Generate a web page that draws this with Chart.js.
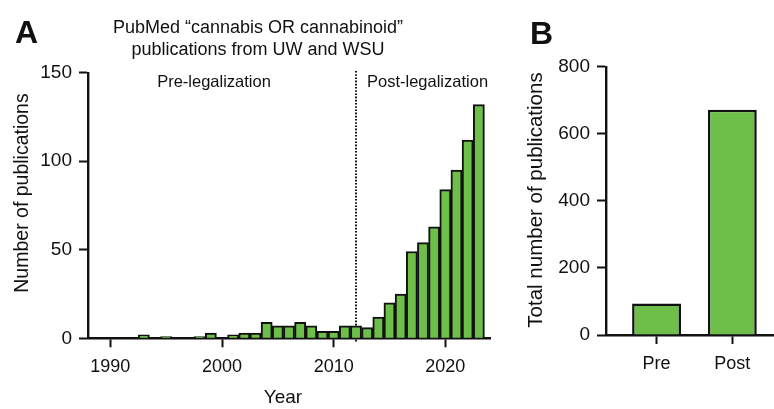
<!DOCTYPE html>
<html>
<head>
<meta charset="utf-8">
<script src="https://cdn.jsdelivr.net/npm/chart.js@4.4.1/dist/chart.umd.min.js"></script>
<style>
  html, body { margin: 0; padding: 0; background: #fff; }
  #wrap { position: relative; width: 774px; height: 409px; overflow: hidden; }
  #panelA { position: absolute; left: 0; top: 0; }
  #panelB { position: absolute; left: 520px; top: 0; }
</style>
</head>
<body>
<div id="wrap">
  <canvas id="panelA" width="520" height="409"></canvas>
  <canvas id="panelB" width="254" height="409"></canvas>
</div>
<script>
// Yearly PubMed counts ("cannabis OR cannabinoid", UW and WSU affiliations)
const years = [1989, 1990, 1991, 1992, 1993, 1994, 1995, 1996, 1997, 1998,
               1999, 2000, 2001, 2002, 2003, 2004, 2005, 2006, 2007, 2008,
               2009, 2010, 2011, 2012, 2013, 2014, 2015, 2016, 2017, 2018,
               2019, 2020, 2021, 2022, 2023];
const publications = [0, 0, 0, 0, 2, 0, 1, 0, 0, 1,
                      3, 0, 2, 3, 3, 9, 7, 7, 9, 7,
                      4, 4, 7, 7, 6, 12, 20, 25, 49, 54,
                      63, 84, 95, 112, 132];
const yearTicks = [1990, 2000, 2010, 2020];
const countTicksA = [0, 50, 100, 150];
const legalizationYear = 2012;

// Totals before and after legalization
const periods = ['Pre', 'Post'];
const periodTotals = [94, 672];
const countTicksB = [0, 200, 400, 600, 800];

const FONT = '"Liberation Sans", Arial, Helvetica, sans-serif';
const INK = '#111111';
const GREEN = '#6dbf4a';

Chart.defaults.font.family = FONT;
Chart.defaults.color = INK;
Chart.defaults.animation = false;

function axisStyle(tickFont, tickPad) {
  return {
    grid: { display: true, drawOnChartArea: false, drawTicks: true,
            tickLength: 9, tickWidth: 2, tickColor: INK, offset: false },
    border: { display: true, color: INK, width: 2.4 },
    ticks: { font: { size: tickFont }, color: INK, padding: tickPad, maxRotation: 0, autoSkip: false }
  };
}

function text(ctx, str, x, y, size, opts = {}) {
  ctx.save();
  ctx.font = (opts.bold ? 'bold ' : '') + size + 'px ' + FONT;
  ctx.fillStyle = INK;
  ctx.textAlign = opts.align || 'center';
  ctx.textBaseline = opts.baseline || 'alphabetic';
  ctx.translate(x, y);
  if (opts.rotate) ctx.rotate(opts.rotate);
  ctx.fillText(str, 0, 0);
  ctx.restore();
}

// Panel A: labels, title and the legalization marker
const panelADecor = {
  id: 'panelADecor',
  beforeDatasetsDraw(chart) {
    const ctx = chart.ctx;
    const x = chart.scales.x.getPixelForValue(legalizationYear);
    ctx.save();
    ctx.strokeStyle = INK;
    ctx.lineWidth = 2;
    ctx.setLineDash([1.6, 1.6]);
    ctx.beginPath();
    ctx.moveTo(x, 71);
    ctx.lineTo(x, 342);
    ctx.stroke();
    ctx.restore();
  },
  afterDraw(chart) {
    const ctx = chart.ctx;
    text(ctx, 'A', 15, 43, 32, { bold: true, align: 'left' });
    text(ctx, 'PubMed \u201Ccannabis OR cannabinoid\u201D', 258, 32.5, 18);
    text(ctx, 'publications from UW and WSU', 258, 54.5, 18);
    text(ctx, 'Pre-legalization', 214, 86.5, 16.5);
    text(ctx, 'Post-legalization', 367, 86.5, 16.5, { align: 'left' });
    text(ctx, 'Year', 283, 398, 19, { baseline: 'middle' });
    text(ctx, 'Number of publications', 23, 193, 19.5, { baseline: 'middle', rotate: -Math.PI / 2 });
  }
};

// Panel B: letter and axis title
const panelBDecor = {
  id: 'panelBDecor',
  afterDraw(chart) {
    const ctx = chart.ctx;
    text(ctx, 'B', 10, 44, 32, { bold: true, align: 'left' });
    text(ctx, 'Total number of publications', 16, 200, 20.5, { baseline: 'middle', rotate: -Math.PI / 2 });
  }
};

const xA = axisStyle(18, 9);
xA.ticks.callback = v => String(v);
const yA = axisStyle(19, 7);
new Chart(document.getElementById('panelA'), {
  type: 'bar',
  data: {
    datasets: [{
      data: years.map((yr, i) => ({ x: yr, y: publications[i] })),
      backgroundColor: GREEN,
      borderColor: INK,
      borderWidth: 2,
      borderSkipped: 'start',
      barPercentage: 1,
      categoryPercentage: 1
    }]
  },
  options: {
    responsive: false,
    devicePixelRatio: 1,
    layout: { padding: { left: 0, right: 30, top: 72.7, bottom: 0 } },
    plugins: { legend: { display: false }, tooltip: { enabled: false } },
    scales: {
      x: Object.assign(xA, {
        type: 'linear', min: 1988, max: 2024, offset: false,
        afterBuildTicks: s => { s.ticks = yearTicks.map(v => ({ value: v })); },
        afterFit: s => { s.height = 409 - 338.3; }
      }),
      y: Object.assign(yA, {
        type: 'linear', min: 0, max: 150,
        afterBuildTicks: s => { s.ticks = countTicksA.map(v => ({ value: v })); },
        afterFit: s => { s.width = 88; }
      })
    }
  },
  plugins: [panelADecor]
});

const xB = axisStyle(18, 9);
xB.ticks.callback = v => periods[v - 1];
const yB = axisStyle(19, 7);
new Chart(document.getElementById('panelB'), {
  type: 'bar',
  data: {
    datasets: [{
      data: periods.map((p, i) => ({ x: i + 1, y: periodTotals[i] })),
      backgroundColor: GREEN,
      borderColor: INK,
      borderWidth: 2.5,
      borderSkipped: 'start',
      barPercentage: 0.645,
      categoryPercentage: 1
    }]
  },
  options: {
    responsive: false,
    devicePixelRatio: 1,
    layout: { padding: { left: 0, right: 0, top: 66.7, bottom: 0 } },
    plugins: { legend: { display: false }, tooltip: { enabled: false } },
    scales: {
      x: Object.assign(xB, {
        type: 'linear', min: 0.333, max: 2.55, offset: false,
        afterBuildTicks: s => { s.ticks = periods.map((p, i) => ({ value: i + 1 })); },
        afterFit: s => { s.height = 409 - 335; }
      }),
      y: Object.assign(yB, {
        type: 'linear', min: 0, max: 800,
        afterBuildTicks: s => { s.ticks = countTicksB.map(v => ({ value: v })); },
        afterFit: s => { s.width = 86; }
      })
    }
  },
  plugins: [panelBDecor]
});
</script>
</body>
</html>
